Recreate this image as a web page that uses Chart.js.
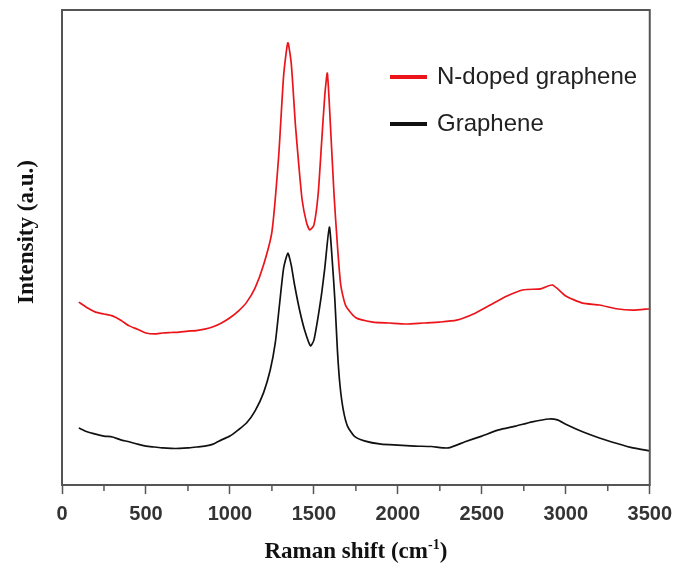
<!DOCTYPE html>
<html><head><meta charset="utf-8">
<script src="https://cdn.jsdelivr.net/npm/chart.js@4.4.0/dist/chart.umd.min.js"></script>
<style>html,body{margin:0;padding:0;background:#fff}#wrap{width:680px;height:564px}</style>
</head><body><div id="wrap"><canvas id="c" width="680" height="564"></canvas></div>
<script>
const seriesLabels = ['N-doped graphene', 'Graphene'];
const nDopedShift = [100,150,200,250,300,350,400,450,500,550,600,650,700,750,800,850,900,950,1000,1050,1100,1150,1200,1250,1290,1320,1345,1365,1390,1410,1430,1455,1475,1500,1525,1545,1565,1580,1600,1620,1640,1660,1690,1750,1850,1950,2050,2150,2250,2350,2450,2550,2650,2750,2850,2920,3000,3100,3200,3300,3400,3500];
const nDopedIntensity = [38.5,37.3,36.4,36.0,35.6,34.7,33.5,32.8,32.0,31.8,32.0,32.1,32.2,32.4,32.5,32.8,33.3,34.1,35.2,36.6,38.5,41.5,46.3,53.3,69.1,86.3,93.1,88.8,75.8,67.4,60.0,55.4,53.7,54.7,61.1,71.6,82.1,86.7,74.7,61.1,50.5,42.1,37.7,35.2,34.3,34.1,33.9,34.1,34.3,34.7,36.0,37.9,39.8,41.1,41.3,42.1,39.8,38.3,37.9,37.1,36.8,37.1];
const grapheneShift = [100,150,200,250,300,350,400,450,500,550,600,650,700,750,800,850,900,950,1000,1050,1100,1150,1200,1240,1270,1295,1320,1345,1365,1385,1415,1445,1480,1500,1520,1545,1565,1592,1610,1625,1640,1655,1675,1700,1740,1800,1900,2000,2100,2200,2300,2400,2500,2600,2700,2800,2900,2950,3000,3100,3200,3300,3400,3500];
const grapheneIntensity = [12.0,11.2,10.7,10.3,10.1,9.5,9.1,8.6,8.2,8.0,7.8,7.7,7.7,7.8,8.0,8.2,8.6,9.5,10.3,11.6,13.1,15.6,19.4,24.2,29.9,37.9,45.7,48.8,46.3,42.1,36.8,32.6,29.3,30.5,34.3,40.0,45.7,54.3,46.9,38.9,28.4,21.1,15.8,12.4,10.3,9.3,8.6,8.4,8.2,8.1,7.8,9.1,10.3,11.6,12.4,13.3,13.9,13.7,12.8,11.2,9.9,8.8,7.8,7.2];
const minorTicks = [250,750,1250,1750,2250,2750,3250];
const xTitle = 'Raman shift (cm';
const xTitleSup = '-1';
const xTitleEnd = ')';
const yTitle = 'Intensity (a.u.)';

const toPoints = (xs, ys) => xs.map((x, i) => ({x: x, y: ys[i]}));

const decor = {
  id: 'decor',
  afterDraw(chart) {
    const ctx = chart.ctx, a = chart.chartArea, xs = chart.scales.x;
    ctx.save();
    ctx.strokeStyle = '#555';
    ctx.lineWidth = 2;
    ctx.strokeRect(a.left, a.top, a.right - a.left, a.bottom - a.top);
    ctx.lineWidth = 1.5;
    minorTicks.forEach(v => {
      const p = xs.getPixelForValue(v);
      ctx.beginPath(); ctx.moveTo(p, a.bottom); ctx.lineTo(p, a.bottom + 6); ctx.stroke();
    });
    ctx.fillStyle = '#111';
    ctx.font = 'bold 23px "Liberation Serif"';
    ctx.textAlign = 'center'; ctx.textBaseline = 'middle';
    ctx.save();
    ctx.translate(27, 232);
    ctx.rotate(-Math.PI / 2);
    ctx.fillText(yTitle, 0, 0);
    ctx.restore();
    const mainFont = 'bold 23px "Liberation Serif"', supFont = 'bold 14px "Liberation Serif"';
    ctx.font = mainFont; const w1 = ctx.measureText(xTitle).width; const w3 = ctx.measureText(xTitleEnd).width;
    ctx.font = supFont; const w2 = ctx.measureText(xTitleSup).width;
    const cx = (a.left + a.right) / 2;
    const x0 = cx - (w1 + w2 + w3) / 2;
    const yb = 558;
    ctx.textAlign = 'left'; ctx.textBaseline = 'alphabetic';
    ctx.font = mainFont; ctx.fillText(xTitle, x0, yb);
    ctx.font = supFont; ctx.fillText(xTitleSup, x0 + w1, yb - 9);
    ctx.font = mainFont; ctx.fillText(xTitleEnd, x0 + w1 + w2, yb);
    chart.data.datasets.forEach((ds, i) => {
      const ly = 77 + i * 47;
      ctx.strokeStyle = ds.borderColor; ctx.lineWidth = 4;
      ctx.beginPath(); ctx.moveTo(390, ly); ctx.lineTo(427, ly); ctx.stroke();
      ctx.fillStyle = '#222'; ctx.font = '24px "Liberation Sans"';
      ctx.textBaseline = 'middle'; ctx.textAlign = 'left';
      ctx.fillText(ds.label, 437, ly);
    });
    ctx.restore();
  }
};

new Chart(document.getElementById('c'), {
  type: 'line',
  data: {
    datasets: [
      {label: seriesLabels[0], data: toPoints(nDopedShift, nDopedIntensity), borderColor: 'rgb(235,20,26)', borderWidth: 1.7, pointRadius: 0, tension: 0.2, fill: false},
      {label: seriesLabels[1], data: toPoints(grapheneShift, grapheneIntensity), borderColor: '#111', borderWidth: 1.7, pointRadius: 0, tension: 0.2, fill: false}
    ]
  },
  options: {
    responsive: false, animation: false, devicePixelRatio: 1,
    layout: {padding: {left: 62, right: 25, top: 10, bottom: 0}},
    plugins: {legend: {display: false}, tooltip: {enabled: false}},
    scales: {
      x: {
        type: 'linear', min: 0, max: 3500,
        ticks: {stepSize: 500, autoSkip: false, maxRotation: 0, padding: 8, color: '#333', font: {family: 'Liberation Sans', weight: 'bold', size: 20}, callback: v => String(v)},
        grid: {drawOnChartArea: false, drawTicks: true, tickLength: 9, tickColor: '#555', tickWidth: 1.5},
        border: {display: false},
        afterFit: s => { s.height = 79; }
      },
      y: {display: false, min: 0, max: 100}
    }
  },
  plugins: [decor]
});
</script></body></html>
